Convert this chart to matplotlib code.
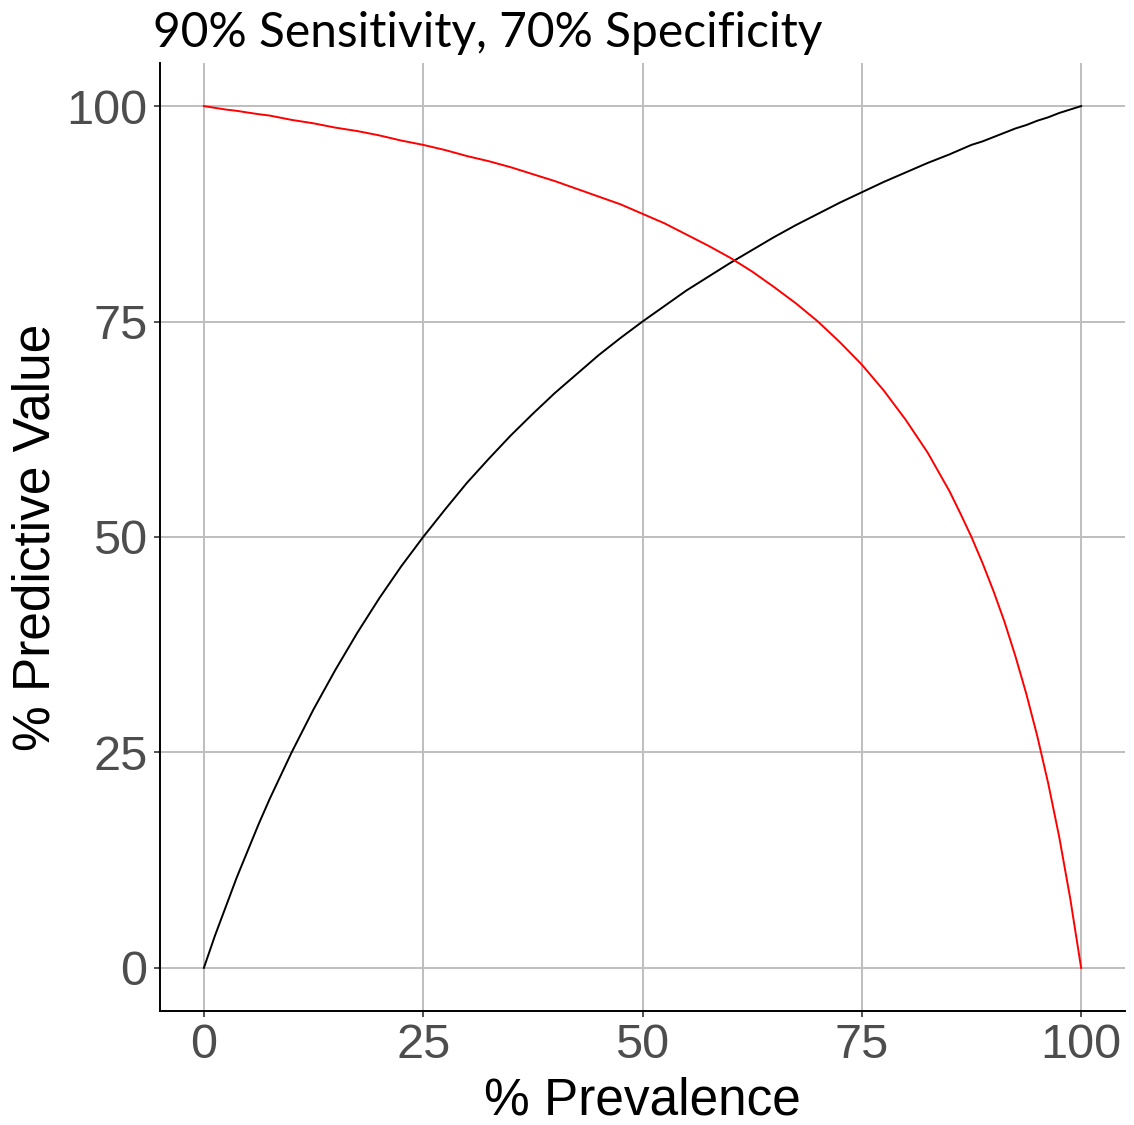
import matplotlib
matplotlib.use("Agg")
import matplotlib.pyplot as plt

# ── Data (prevalence in %) ─────────────────────────────────────────
prevalence = [0, 1.25, 2.5, 3.75, 5, 6.25, 7.5, 8.75, 10, 12.5, 15, 17.5, 20,
              22.5, 25, 27.5, 30, 32.5, 35, 37.5, 40, 42.5, 45, 47.5, 50, 52.5,
              55, 57.5, 60, 62.5, 65, 67.5, 70, 72.5, 75, 77.5, 80, 82.5, 85,
              86.25, 87.5, 88.75, 90, 91.25, 92.5, 93.75, 95, 96.25, 97.5,
              98.75, 100]
ppv = [0, 3.7, 7.1, 10.5, 13.6, 16.7, 19.6, 22.3, 25.0, 30.0, 34.6, 38.9, 42.9,
       46.6, 50.0, 53.2, 56.3, 59.1, 61.8, 64.3, 66.7, 68.9, 71.1, 73.1, 75.0,
       76.8, 78.6, 80.2, 81.8, 83.3, 84.8, 86.2, 87.5, 88.8, 90.0, 91.2, 92.3,
       93.4, 94.4, 94.95, 95.5, 95.9, 96.4, 96.9, 97.4, 97.8, 98.3, 98.7, 99.2,
       99.6, 100]
npv = [100, 99.8, 99.6, 99.45, 99.25, 99.06, 98.9, 98.65, 98.4, 98.0, 97.5,
       97.1, 96.6, 96.0, 95.5, 94.9, 94.2, 93.6, 92.9, 92.1, 91.3, 90.4, 89.5,
       88.6, 87.5, 86.4, 85.1, 83.8, 82.4, 80.8, 79.0, 77.1, 75.0, 72.6, 70.0,
       67.0, 63.6, 59.8, 55.3, 52.7, 50.0, 47.0, 43.75, 40.2, 36.2, 31.8, 26.9,
       21.4, 15.2, 8.1, 0]
ticks = [0, 25, 50, 75, 100]

GRID = "#BEBEBE"
TICK_TXT = "#4D4D4D"

plt.rcParams["font.family"] = ["Liberation Sans", "DejaVu Sans"]

fig = plt.figure(figsize=(11.34, 11.25), dpi=100)
ax = fig.add_axes([160 / 1134, 1 - 1011 / 1125, (1125 - 160) / 1134, (1011 - 63) / 1125])

ax.plot(prevalence, ppv, color="black", lw=1.4, zorder=3)
ax.plot(prevalence, npv, color="red", lw=1.4, zorder=3)

ax.set_xlim(-5, 105)
ax.set_ylim(-5, 105)
ax.set_xticks(ticks)
ax.set_yticks(ticks)
ax.grid(True, color=GRID, lw=1.4)
ax.set_axisbelow(True)

for side in ["top", "right"]:
    ax.spines[side].set_visible(False)
for side in ["left", "bottom"]:
    ax.spines[side].set_color("black")
    ax.spines[side].set_linewidth(1.4)

ax.tick_params(axis="both", length=4, width=1.2, color="#333333",
               labelsize=35, labelcolor=TICK_TXT, pad=5)

ax.set_xlabel("% Prevalence", fontsize=37, color="black", labelpad=6)
ax.set_ylabel("% Predictive Value", fontsize=37, color="black", labelpad=4)

fig.text(153 / 1134, 1 - 47 / 1125, "90% Sensitivity, 70% Specificity",
         fontsize=34.5, family=["Lato", "DejaVu Sans"], color="black",
         ha="left", va="baseline")

fig.savefig("out.png", dpi=100, facecolor="white")
plt.close(fig)
